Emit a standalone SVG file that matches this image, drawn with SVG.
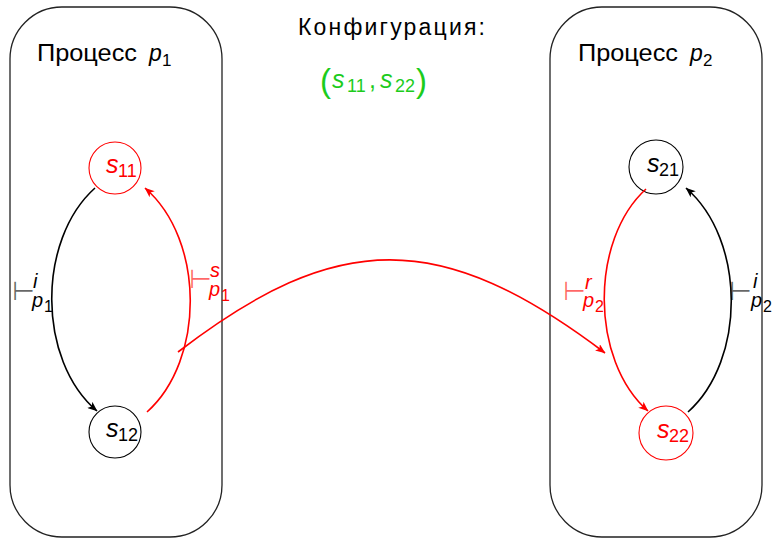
<svg xmlns="http://www.w3.org/2000/svg" width="773" height="539" viewBox="0 0 773 539">
<style>
text{font-family:"Liberation Sans","DejaVu Sans",sans-serif;}
.t{font-size:23px;fill:#000;}
.m{font-style:italic;}
.box{fill:none;stroke:#222;stroke-width:1.3;}
.node{fill:#fff;stroke-width:1.1;}
.e{fill:none;stroke-width:1.6;}
.blk{stroke:#000;}
.red{stroke:#ff0000;}
.lab{font-size:25px;}
.sub{font-size:18px;}
.tk{font-family:"DejaVu Sans",sans-serif;font-size:26px;font-style:normal;fill-opacity:0.6;}
.ts{font-size:16px;font-style:normal;}
.ti{font-size:20px;}
.g{fill:#1ccc1c;}
</style>
<defs>
<marker id="ab" viewBox="0 0 10 8" refX="9.5" refY="4" markerWidth="10" markerHeight="8" markerUnits="userSpaceOnUse" orient="auto"><path d="M0,0 L10,4 L0,8 L2.5,4 z" fill="#000"/></marker>
<marker id="ar" viewBox="0 0 10 8" refX="9.5" refY="4" markerWidth="10" markerHeight="8" markerUnits="userSpaceOnUse" orient="auto"><path d="M0,0 L10,4 L0,8 L2.5,4 z" fill="#ff0000"/></marker>
</defs>
<rect width="773" height="539" fill="#fff"/>

<g id="process1">
<rect class="box" x="10" y="7" width="212" height="530" rx="52" ry="52"/>
<text class="t" x="37" y="61"><tspan textLength="100" lengthAdjust="spacingAndGlyphs">Процесс</tspan><tspan class="m" x="149">p</tspan><tspan x="162" y="66" style="font-size:17px">1</tspan></text>
</g>

<g id="process2">
<rect class="box" x="550" y="7" width="212" height="530" rx="52" ry="52"/>
<text class="t" x="578" y="61"><tspan textLength="100" lengthAdjust="spacingAndGlyphs">Процесс</tspan><tspan class="m" x="690">p</tspan><tspan x="703" y="66" style="font-size:17px">2</tspan></text>
</g>

<g id="config">
<text class="t" x="298" y="35" textLength="187" lengthAdjust="spacing">Конфигурация:</text>
<text class="g" y="90" style="font-size:25px"><tspan x="320" y="92" style="font-size:33px">(</tspan><tspan class="m" x="332" y="88">s</tspan><tspan x="347" y="92" style="font-size:18px">11</tspan><tspan x="369" y="88">,</tspan><tspan class="m" x="380" y="88">s</tspan><tspan x="395" y="92" style="font-size:18px">22</tspan><tspan x="416" y="92" style="font-size:33px">)</tspan></text>
</g>

<g id="s11">
<circle class="node" cx="115" cy="168" r="26" stroke="#ff0000"/>
<text x="106" y="173" fill="#ff0000"><tspan class="lab m">s</tspan><tspan class="sub" x="118" y="177">11</tspan></text>
</g>
<g id="s12">
<circle class="node" cx="115" cy="432" r="26" stroke="#000"/>
<text x="106" y="437" fill="#000"><tspan class="lab m">s</tspan><tspan class="sub" x="118" y="441">12</tspan></text>
</g>
<g id="s21">
<circle class="node" cx="656" cy="167" r="27" stroke="#000"/>
<text x="647" y="172" fill="#000"><tspan class="lab m">s</tspan><tspan class="sub" x="659" y="176">21</tspan></text>
</g>
<g id="s22">
<circle class="node" cx="666" cy="433" r="27" stroke="#ff0000"/>
<text x="657" y="438" fill="#ff0000"><tspan class="lab m">s</tspan><tspan class="sub" x="669" y="442">22</tspan></text>
</g>

<g id="connectors">
<path class="e blk" d="M95,188 C37,240 37,360 97,411" marker-end="url(#ab)"/>
<path class="e red" d="M147,412 C205,360 205,240 145,188" marker-end="url(#ar)"/>
<path class="e red" d="M646,189 C590,240 590,360 648,411" marker-end="url(#ar)"/>
<path class="e blk" d="M688,412 C746,360 746,240 686,188" marker-end="url(#ab)"/>
<path class="e red" d="M178,352 C338,229 441,229 605,353" marker-end="url(#ar)"/>
</g>

<g id="labels">
<text class="ti m" fill="#000"><tspan class="tk" x="12" y="300">⊢</tspan><tspan x="33" y="288">i</tspan><tspan x="32" y="307">p</tspan><tspan class="ts" x="44" y="312">1</tspan></text>
<text class="ti m" fill="#ff0000"><tspan class="tk" x="189" y="288">⊢</tspan><tspan x="210" y="277">s</tspan><tspan x="209" y="296">p</tspan><tspan class="ts" x="221" y="301">1</tspan></text>
<text class="ti m" fill="#ff0000"><tspan class="tk" x="563" y="300">⊢</tspan><tspan x="585" y="289">r</tspan><tspan x="583" y="307">p</tspan><tspan class="ts" x="595" y="312">2</tspan></text>
<text class="ti m" fill="#000"><tspan class="tk" x="729" y="300">⊢</tspan><tspan x="753" y="288">i</tspan><tspan x="751" y="307">p</tspan><tspan class="ts" x="763" y="312">2</tspan></text>
</g>
</svg>
